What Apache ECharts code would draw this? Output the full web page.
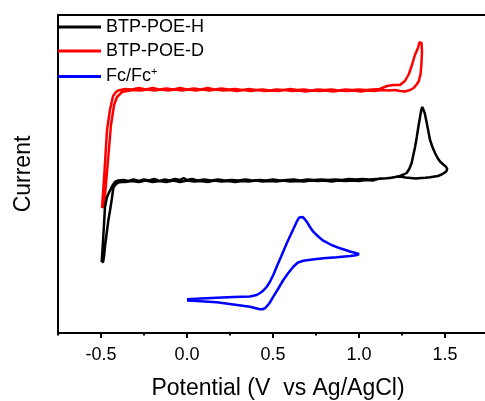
<!DOCTYPE html>
<html><head><meta charset="utf-8">
<script src="https://cdn.jsdelivr.net/npm/echarts@6/dist/echarts.min.js"></script>
<style>html,body{margin:0;padding:0;background:#fff}#c{width:485px;height:401px}</style>
</head><body><div id="c"></div>
<script>
const seriesNames = ['BTP-POE-H', 'BTP-POE-D', 'Fc/Fc+'];
const xTickLabels = [-0.5, 0.0, 0.5, 1.0, 1.5];
const xMinorTicks = [-0.75, -0.25, 0.25, 0.75, 1.25];

const btpH = [
  [-0.496,70],[-0.485,100],[-0.477,125],[-0.465,135],[-0.452,140],[-0.435,146],[-0.419,150],[-0.40,151.5],[-0.37,152],
  [-0.34,151],[-0.31,152.5],[-0.28,151],[-0.25,152.5],[-0.22,151.5],[-0.19,153],[-0.16,151],[-0.13,152.5],[-0.10,151.5],
  [-0.07,153],[-0.04,152],[-0.02,154],[0.0,152],[0.03,153],[0.06,151.5],[0.10,152.5],[0.14,151.5],[0.18,152.5],[0.22,151.5],
  [0.26,152],[0.30,151.5],[0.34,152.5],[0.38,151.5],[0.42,152],[0.46,151.5],[0.50,152.5],[0.54,151.5],[0.58,152],[0.62,152.5],
  [0.66,151.5],[0.70,152.5],[0.74,152],[0.78,152.5],[0.82,152],[0.86,152.5],[0.90,152],[0.94,153],[0.98,152.5],[1.02,153],
  [1.06,152.5],[1.10,153],[1.14,153.5],[1.18,154],[1.21,155],[1.238,156],[1.26,157.5],[1.277,159],[1.292,163],[1.306,169],
  [1.316,177],[1.326,185],[1.336,195],[1.345,205],[1.355,215],[1.362,222],[1.368,225],[1.374,225],[1.382,219],[1.394,209],
  [1.404,200],[1.413,192],[1.427,185],[1.442,179],[1.457,174],[1.471,170.5],[1.49,167.5],[1.505,165.5],[1.513,163],
  [1.507,160.5],[1.495,159],[1.481,157.7],[1.46,156],[1.44,155.5],[1.413,154.7],[1.385,154.2],[1.36,154],[1.33,153.5],
  [1.30,154],[1.27,154.5],[1.24,155.5],[1.219,155.3],[1.19,154.2],[1.16,153.8],[1.122,153.5],[1.08,151.5],[1.04,152],
  [1.0,151],[0.96,151.5],[0.92,151],[0.88,151.5],[0.84,150.5],[0.80,151.5],[0.76,151],[0.72,151.5],[0.68,150.5],[0.64,151],
  [0.60,150.5],[0.56,151.5],[0.52,150.5],[0.48,151],[0.44,150.5],[0.40,151.5],[0.36,150.5],[0.32,151],[0.28,150],[0.24,151],
  [0.20,150.5],[0.16,151.5],[0.12,150],[0.08,151],[0.04,150.5],[0.0,151.5],[-0.04,150],[-0.08,151.5],[-0.12,150],[-0.16,151],
  [-0.20,150],[-0.24,151.5],[-0.28,150],[-0.32,151],[-0.36,150],[-0.38,150],[-0.399,149.5],[-0.415,147.5],[-0.428,144.5],
  [-0.438,132],[-0.447,122],[-0.457,112],[-0.466,100],[-0.475,88],[-0.482,76],[-0.488,70],[-0.496,70]
];

const btpD = [
  [-0.494,124],[-0.48,160],[-0.465,202],[-0.448,222],[-0.43,236],[-0.415,239.5],[-0.401,241.5],[-0.36,243],
  [-0.32,242.5],[-0.28,244],[-0.24,242.5],[-0.20,244],[-0.16,242.5],[-0.12,243.5],[-0.08,242.5],[-0.04,244],[0.0,242.5],
  [0.04,243.5],[0.08,242.5],[0.12,244],[0.16,242.5],[0.20,243.5],[0.24,242.5],[0.28,243],[0.32,242],[0.36,243],[0.40,242],
  [0.44,242.5],[0.48,241.5],[0.52,242.5],[0.56,242],[0.60,243],[0.64,242],[0.68,242.5],[0.72,241.5],[0.76,242.5],[0.80,242],
  [0.84,242.5],[0.88,241.5],[0.92,242.5],[0.96,242],[1.0,242.5],[1.04,242],[1.08,242.5],[1.12,243],[1.163,246],[1.20,247],
  [1.238,247],[1.267,251],[1.29,258],[1.308,267],[1.325,277],[1.343,284],[1.352,290],[1.358,291],[1.364,289],[1.366,280],
  [1.363,268],[1.358,258],[1.348,251],[1.337,248],[1.318,244],[1.297,242],[1.267,240.5],[1.238,241],[1.209,242],[1.17,241.5],
  [1.13,242],[1.09,241],[1.05,241.5],[1.01,240.5],[0.97,241.5],[0.93,241],[0.89,241.5],[0.85,240.5],[0.81,241.5],[0.77,241],
  [0.73,241.5],[0.69,240.5],[0.65,241.5],[0.61,241],[0.57,242],[0.53,241],[0.49,241.5],[0.45,241],[0.41,242],[0.37,241],
  [0.33,242],[0.29,241],[0.25,242],[0.21,241.5],[0.17,242.5],[0.13,241.5],[0.09,242.5],[0.05,241.5],[0.01,242.5],[-0.03,241.5],
  [-0.07,242.5],[-0.11,241.5],[-0.15,242.5],[-0.19,241.5],[-0.23,242.5],[-0.27,241.5],[-0.31,242],[-0.35,241],[-0.378,240],
  [-0.407,235],[-0.424,227],[-0.442,207],[-0.46,170],[-0.475,140],[-0.483,126],[-0.494,124]
];

const fc = [
  [0.0,32.7],[0.08,33.5],[0.173,34.3],[0.27,35],[0.366,35.5],[0.405,37],[0.425,39],[0.444,41.5],[0.465,45.5],[0.483,50.5],
  [0.503,57.5],[0.522,65.5],[0.551,77],[0.580,88.7],[0.609,99.5],[0.638,110.3],[0.652,114.5],[0.661,116],[0.672,115],
  [0.684,113],[0.696,110.3],[0.715,105],[0.734,100.3],[0.763,95.5],[0.792,91.3],[0.84,87],[0.890,83.7],[0.948,80.5],
  [0.985,78.8],[1.0,78],[0.985,76.8],[0.948,76],[0.87,74.8],[0.792,73.7],[0.73,72.5],[0.676,71.3],[0.645,69.5],[0.618,65.3],
  [0.589,59],[0.560,52],[0.531,43.5],[0.502,35.3],[0.478,28.5],[0.453,23.7],[0.438,22.8],[0.424,22.7],[0.395,24],
  [0.366,25.3],[0.27,27.5],[0.173,29.7],[0.08,30.8],[0.0,31.5]
];

const chart = echarts.init(document.getElementById('c'), null, {renderer: 'canvas'});
const font = 'Liberation Sans, Arial, sans-serif';
chart.setOption({
  animation: false,
  backgroundColor: '#fff',
  textStyle: {fontFamily: font},
  grid: {left: 58, top: 15, width: 430, height: 318, containLabel: false, outerBoundsMode: 'none'},
  legend: {
    left: 58, top: 18, orient: 'vertical', padding: 0,
    itemWidth: 43, itemHeight: 18, itemGap: 6,
    icon: 'path://M0 0H43V3H0Z',
    data: seriesNames,
    formatter: function (n) { return n === 'Fc/Fc+' ? '{a|Fc/Fc}{s|+}' : n; },
    textStyle: {
      fontFamily: font, fontSize: 18, color: '#000',
      rich: {
        a: {fontFamily: font, fontSize: 18, color: '#000'},
        s: {fontFamily: font, fontSize: 11, color: '#000', verticalAlign: 'top', padding: [0, 0, 10, 0]}
      }
    }
  },
  xAxis: [{
    type: 'value', min: -0.75, max: 1.75, position: 'bottom',
    splitLine: {show: false},
    axisLine: {show: true, onZero: false, lineStyle: {color: '#000', width: 2}},
    axisTick: {show: true, inside: false, length: 5, customValues: xTickLabels, lineStyle: {color: '#000', width: 2}},
    axisLabel: {show: true, customValues: xTickLabels, margin: 13, fontSize: 18, color: '#000', fontFamily: font,
      formatter: function (v) { return v.toFixed(1); }},
    name: 'Potential (V  vs Ag/AgCl)', nameLocation: 'middle', nameGap: 44,
    nameTextStyle: {fontSize: 23, color: '#000', fontFamily: font, padding: [0, 0, 0, 10]}
  }, {
    type: 'value', min: -0.75, max: 1.75, position: 'bottom',
    splitLine: {show: false},
    axisLine: {show: false, onZero: false},
    axisTick: {show: true, inside: false, length: 2.5, customValues: xMinorTicks, lineStyle: {color: '#000', width: 2}},
    axisLabel: {show: false}
  }, {
    type: 'value', min: -0.75, max: 1.75, position: 'top',
    splitLine: {show: false},
    axisLine: {show: true, onZero: false, lineStyle: {color: '#000', width: 2}},
    axisTick: {show: false}, axisLabel: {show: false}
  }],
  yAxis: {
    type: 'value', min: -1, max: 317,
    splitLine: {show: false},
    axisLine: {show: true, onZero: false, lineStyle: {color: '#000', width: 2}},
    axisTick: {show: false}, axisLabel: {show: false},
    name: 'Current', nameLocation: 'middle', nameGap: 23,
    nameTextStyle: {fontSize: 23, color: '#000', fontFamily: font}
  },
  series: [
    {name: seriesNames[0], type: 'line', data: btpH, showSymbol: false, symbol: 'none', lineStyle: {color: '#000', width: 2.5}, itemStyle: {color: '#000'}, z: 3},
    {name: seriesNames[1], type: 'line', data: btpD, showSymbol: false, symbol: 'none', lineStyle: {color: '#ff0000', width: 2.5}, itemStyle: {color: '#ff0000'}, z: 2},
    {name: seriesNames[2], type: 'line', data: fc, showSymbol: false, symbol: 'none', lineStyle: {color: '#0000ff', width: 2.5}, itemStyle: {color: '#0000ff'}, z: 2}
  ]
});
</script></body></html>
